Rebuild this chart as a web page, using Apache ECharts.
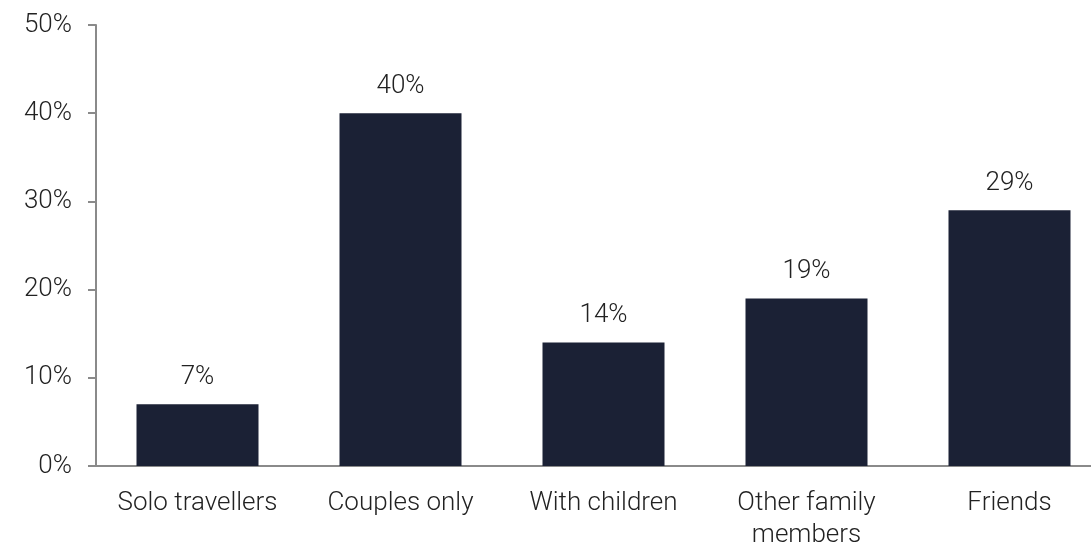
<!DOCTYPE html>
<html>
<head>
<meta charset="utf-8">
<style>
  html, body { margin: 0; padding: 0; background: #ffffff; }
  #chart { width: 1091px; height: 544px; }
</style>
<script src="https://cdn.jsdelivr.net/npm/echarts@6/dist/echarts.min.js"></script>
</head>
<body>
<div id="chart"></div>
<script>
// Who people travel with, share of respondents (%)
const categories = ['Solo travellers', 'Couples only', 'With children', 'Other family\nmembers', 'Friends'];
const shares = [7, 40, 14, 19, 29];
const yTicks = [0, 10, 20, 30, 40, 50];

const textColor = '#222222';
const axisColor = '#8a8a8a';
const barColor = '#1b2135';
const fontFamily = 'Roboto, "Noto Sans", sans-serif';

const chart = echarts.init(document.getElementById('chart'), null, { renderer: 'canvas' });

chart.setOption({
  animation: false,
  // the plot runs past the right edge, so the last category is clipped
  grid: { left: 96, width: 1015, top: 25, height: 441, containLabel: false, outerBoundsMode: 'none' },
  xAxis: {
    type: 'category',
    data: categories,
    axisLine: { show: true, lineStyle: { color: axisColor, width: 2 } },
    axisTick: { show: false },
    axisLabel: {
      color: textColor,
      fontFamily: fontFamily,
      fontWeight: 300,
      fontSize: 26,
      lineHeight: 32,
      margin: 21,
      interval: 0
    }
  },
  yAxis: {
    type: 'value',
    min: yTicks[0],
    max: yTicks[yTicks.length - 1],
    interval: 10,
    splitLine: { show: false },
    axisLine: { show: true, lineStyle: { color: axisColor, width: 2 } },
    axisTick: { show: true, length: 8, lineStyle: { color: axisColor, width: 2 } },
    axisLabel: {
      color: textColor,
      fontFamily: fontFamily,
      fontWeight: 300,
      fontSize: 26,
      margin: 24,
      padding: [5, 0, 0, 0],
      formatter: v => v + '%'
    }
  },
  series: [{
    type: 'bar',
    data: shares,
    barWidth: 122,
    itemStyle: { color: barColor },
    label: {
      show: true,
      position: 'top',
      distance: 14,
      color: textColor,
      fontFamily: fontFamily,
      fontWeight: 300,
      fontSize: 26,
      formatter: p => p.value + '%'
    }
  }]
});
</script>
</body>
</html>
